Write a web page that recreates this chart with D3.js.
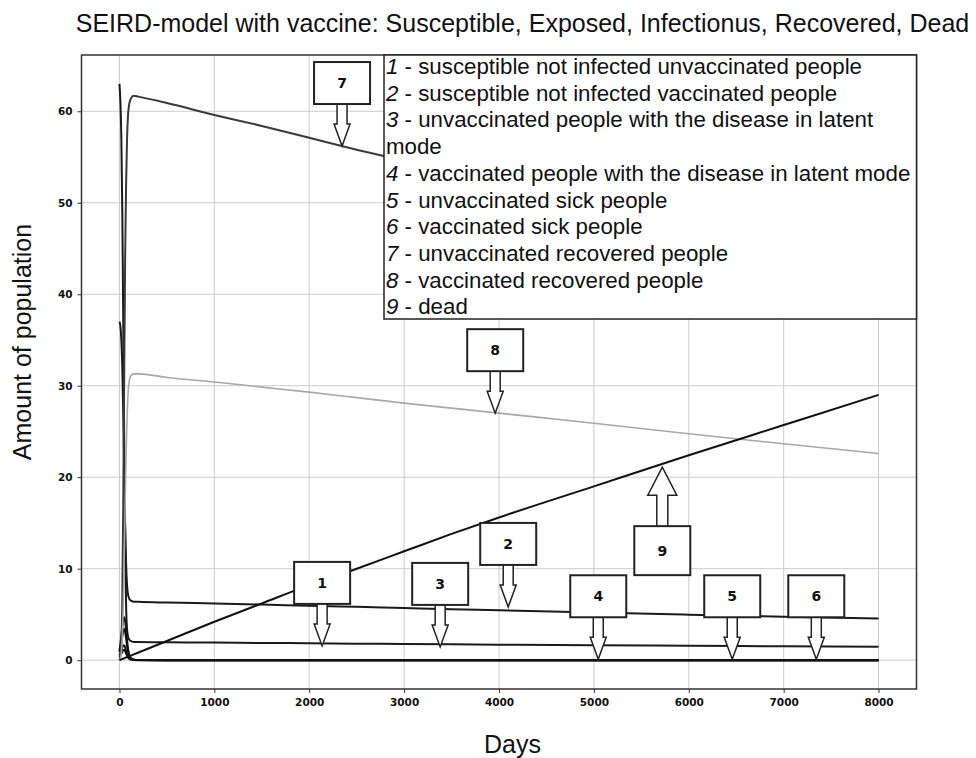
<!DOCTYPE html>
<html>
<head>
<meta charset="utf-8">
<script src="https://cdn.jsdelivr.net/npm/d3@7"></script>
<style>
  html, body { margin: 0; padding: 0; background: #fff; }
  svg { display: block; }
</style>
</head>
<body>
<svg id="chart" width="976" height="758"></svg>
<script>
// ---------------- data ----------------
const days = [0,10,20,30,40,50,60,70,80,90,100,120,150,200,500,1000,1500,2000,2500,3000,3500,4000,5000,6000,7000,8000];

const s1 = [63,61,57,49,37,24,13,6,3.4,2.6,2.3,2.1,2.0,1.98,1.95,1.92,1.88,1.85,1.8,1.77,1.73,1.7,1.63,1.57,1.51,1.46];
const s2 = [37,36.5,35,32,27,21,15,10.5,8.2,7.2,6.8,6.5,6.4,6.38,6.3,6.2,6.08,5.95,5.83,5.7,5.58,5.45,5.2,4.97,4.75,4.55];
const s3 = [1.0,1.8,2.7,3.6,4.4,4.7,4.3,3.3,2.2,1.3,0.7,0.25,0.08,0.02,0,0,0,0,0,0,0,0,0,0,0,0];
const s4 = [0.5,0.8,1.1,1.4,1.6,1.6,1.4,1.0,0.65,0.4,0.2,0.08,0.03,0.01,0,0,0,0,0,0,0,0,0,0,0,0];
const s5 = [0.9,1.3,1.9,2.6,3.2,3.4,3.1,2.4,1.6,1.0,0.6,0.2,0.05,0.01,0,0,0,0,0,0,0,0,0,0,0,0];
const s6 = [0.3,0.5,0.7,0.9,1.1,1.15,1.0,0.75,0.5,0.3,0.18,0.06,0.02,0,0,0,0,0,0,0,0,0,0,0,0,0];
const s7 = [0,0.5,2,7,17,31,44,52,57,59.5,60.6,61.4,61.7,61.6,60.9,59.6,58.4,57.1,55.8,54.6,53.4,52.2,49.9,47.6,45.4,43.3];
const s8 = [0,0.2,0.8,2.5,6,11,17,22.5,26.5,29,30.3,31.1,31.3,31.3,30.9,30.4,29.85,29.3,28.7,28.1,27.55,27.0,25.9,24.75,23.65,22.6];
const s9 = [0,0.04,0.08,0.13,0.17,0.21,0.25,0.3,0.34,0.38,0.42,0.5,0.63,0.84,2.1,4.2,6.2,8.2,10.0,11.9,13.8,15.6,19.0,22.4,25.7,29.0];

const seriesOrder = [s1, s2, s3, s4, s5, s6, s7, s8, s9];

const xTicks = [0,1000,2000,3000,4000,5000,6000,7000,8000];
const yTicks = [0,10,20,30,40,50,60];

const legendLines = [
  ["1", " - susceptible not infected unvaccinated people"],
  ["2", " - susceptible not infected vaccinated people"],
  ["3", " - unvaccinated people with the disease in latent"],
  ["",  "mode"],
  ["4", " - vaccinated people with the disease in latent mode"],
  ["5", " - unvaccinated sick people"],
  ["6", " - vaccinated sick people"],
  ["7", " - unvaccinated recovered people"],
  ["8", " - vaccinated recovered people"],
  ["9", " - dead"]
];

// callouts: label, day and value of the arrow tip, arrow direction
const calloutLabels = ["7","8","9","2","1","3","4","5","6"];
const calloutDays   = [2346,3960,5721,4097,2136,3380,5046,6458,7344];
const calloutValues = [56.2,27.0,21.1,5.82,1.56,1.45,0.1,0.1,0.1];
const calloutDirs   = ["down","down","up","down","down","down","down","down","down"];

const titleText = "SEIRD-model with vaccine: Susceptible, Exposed, Infectionus, Recovered, Dead";
const xLabel = "Days";
const yLabel = "Amount of population";

// ---------------- drawing ----------------
const svg = d3.select("#chart");
const L = 81.5, R = 916.5, T = 55, B = 689;

const x = d3.scaleLinear().domain([-400, 8400]).range([L, R]);
const y = d3.scaleLinear().domain([-3.15, 66.15]).range([B, T]);

// grid
const grid = svg.append("g");
grid.selectAll("line.vx").data(xTicks).join("line")
  .attr("x1", d => x(d)).attr("x2", d => x(d)).attr("y1", T).attr("y2", B)
  .attr("stroke", "#cccccc").attr("stroke-width", 1);
grid.selectAll("line.hy").data(yTicks).join("line")
  .attr("x1", L).attr("x2", R).attr("y1", d => y(d)).attr("y2", d => y(d))
  .attr("stroke", "#cccccc").attr("stroke-width", 1);

// curves
const line = d3.line().x((d, i) => x(days[i])).y(d => y(d)).curve(d3.curveMonotoneX);
const styles = [
  {c:"#1a1a1a", w:2}, {c:"#1a1a1a", w:2}, {c:"#111", w:2}, {c:"#111", w:2},
  {c:"#111", w:2}, {c:"#111", w:2}, {c:"#3a3a3a", w:2}, {c:"#a8a8a8", w:1.6}, {c:"#111", w:2}
];
const curves = svg.append("g");
seriesOrder.forEach((s, i) => {
  curves.append("path").datum(s)
    .attr("d", line)
    .attr("fill", "none")
    .attr("stroke", styles[i].c)
    .attr("stroke-width", styles[i].w)
    .attr("stroke-linejoin", "round");
});

// axes
const xAxis = d3.axisBottom(x).tickValues(xTicks).tickSize(4).tickPadding(6).tickFormat(d3.format("d"));
const yAxis = d3.axisLeft(y).tickValues(yTicks).tickSize(4).tickPadding(5).tickFormat(d3.format("d"));
const gx = svg.append("g").attr("transform", `translate(0,${B})`).call(xAxis);
const gy = svg.append("g").attr("transform", `translate(${L},0)`).call(yAxis);
[gx, gy].forEach(g => {
  g.select(".domain").remove();
  g.selectAll(".tick line").attr("stroke", "#333").attr("stroke-width", 1);
  g.selectAll(".tick text").attr("fill", "#111")
    .style("font-family", "DejaVu Sans").style("font-size", "10.5px").style("font-weight", "600");
});

// frame
svg.append("rect").attr("x", L).attr("y", T).attr("width", R - L).attr("height", B - T)
  .attr("fill", "none").attr("stroke", "#333").attr("stroke-width", 1.5);

// legend
const lg = svg.append("g");
lg.append("rect").attr("x", 384).attr("y", T).attr("width", R - 384).attr("height", 319 - T)
  .attr("fill", "#fff").attr("stroke", "#222").attr("stroke-width", 1.5);
legendLines.forEach((ln, i) => {
  const t = lg.append("text").attr("x", 386).attr("y", 74 + i * 26.7)
    .style("font-family", "Liberation Sans, Arial, sans-serif").style("font-size", "22.3px").attr("fill", "#111");
  if (ln[0]) t.append("tspan").style("font-style", "italic").text(ln[0]);
  t.append("tspan").text(ln[1]);
});

// callouts
const cg = svg.append("g");
calloutLabels.forEach((lab, i) => {
  const tx = x(calloutDays[i]), ty = y(calloutValues[i]);
  const up = calloutDirs[i] === "up";
  const len = up ? 59 : 42, hl = up ? 28 : 22, hw = up ? 14.5 : 8, sw = up ? 5.5 : 5;
  const bh = up ? 49 : 42, bw = 56;
  const s = up ? -1 : 1; // direction factor
  const base = ty - s * len;
  const headBase = ty - s * hl;
  const pts = [
    [tx - sw, base], [tx - sw, headBase], [tx - hw, headBase], [tx, ty],
    [tx + hw, headBase], [tx + sw, headBase], [tx + sw, base]
  ];
  cg.append("path").attr("d", d3.line()(pts))
    .attr("fill", "#fff").attr("stroke", "#222").attr("stroke-width", 1.5).attr("stroke-linejoin", "miter");
  const by = up ? base : base - bh;
  cg.append("rect").attr("x", tx - bw / 2).attr("y", by).attr("width", bw).attr("height", bh)
    .attr("fill", "#fff").attr("stroke", "#222").attr("stroke-width", 2);
  cg.append("text").attr("x", tx).attr("y", by + bh / 2).attr("dy", "0.36em")
    .attr("text-anchor", "middle").style("font-family", "DejaVu Sans").style("font-weight", "bold")
    .style("font-size", "14px").attr("fill", "#111").text(lab);
});

// titles
svg.append("text").attr("x", 522.5).attr("y", 31.5).attr("text-anchor", "middle")
  .style("font-family", "Liberation Sans, Arial, sans-serif").style("font-size", "25px").attr("fill", "#111")
  .text(titleText);
svg.append("text").attr("x", 512.5).attr("y", 753).attr("text-anchor", "middle")
  .style("font-family", "Liberation Sans, Arial, sans-serif").style("font-size", "25px").attr("fill", "#111")
  .text(xLabel);
svg.append("text").attr("transform", "translate(31,342) rotate(-90)").attr("text-anchor", "middle")
  .style("font-family", "Liberation Sans, Arial, sans-serif").style("font-size", "25px").attr("fill", "#111")
  .text(yLabel);
</script>
</body>
</html>
